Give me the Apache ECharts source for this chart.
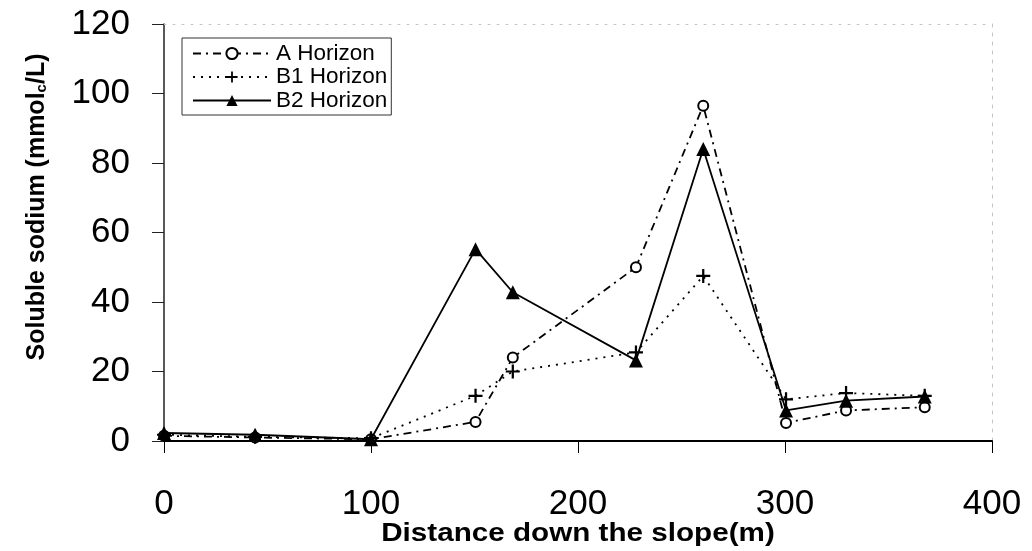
<!DOCTYPE html>
<html>
<head>
<meta charset="utf-8">
<script src="https://cdn.jsdelivr.net/npm/echarts@6/dist/echarts.min.js"></script>
<style>
html,body{margin:0;padding:0;background:#fff;}
#chart{width:1032px;height:551px;}
</style>
</head>
<body>
<div id="chart"></div>
<script>
// ---- data ----
const distance = [0, 44, 100, 150.5, 168.5, 228, 260.5, 300.5, 329.5, 367.5];
const aHorizon = [1.5, 1.0, 0.5, 5.5, 24, 50, 96.5, 5.2, 8.8, 9.7];
const b1Horizon = [1.8, 1.2, 0.8, 13, 20, 25.5, 47.5, 12, 13.8, 13];
const b2Horizon = [2.3, 1.8, 0.5, 55.2, 42.8, 23.2, 84, 8.8, 11.6, 12.8];
const seriesNames = ['A Horizon', 'B1 Horizon', 'B2 Horizon'];
const xTicks = [0, 100, 200, 300, 400];
const yTicks = [0, 20, 40, 60, 80, 100, 120];
const xTitle = 'Distance down the slope(m)';
const yTitle = 'Soluble sodium (mmol{sub|c}/L)';

const pairs = vals => distance.map((d, i) => [d, vals[i]]);
const FONT = '"Liberation Sans", Arial, sans-serif';
const plusPath = 'path://M4.2,0H5.8V4.2H10V5.8H5.8V10H4.2V5.8H0V4.2H4.2Z';

const chart = echarts.init(document.getElementById('chart'), null, {renderer: 'canvas'});
chart.setOption({
  backgroundColor: '#ffffff',
  animation: false,
  grid: {left: 164, right: 40, top: 24, bottom: 110, containLabel: false},
  legend: {
    data: seriesNames,
    orient: 'vertical',
    left: 182, top: 38,
    padding: [4, 4, 3, 10],
    itemWidth: 78, itemHeight: 14, itemGap: 0.5,
    borderColor: '#333', borderWidth: 1,
    backgroundColor: '#fff',
    textStyle: {fontFamily: FONT, fontSize: 22.5, color: '#000'}
  },
  xAxis: [{
    type: 'value', min: xTicks[0], max: xTicks[xTicks.length - 1], interval: 100,
    axisLine: {lineStyle: {color: '#000', width: 2}},
    axisTick: {show: true, inside: false, length: 12, lineStyle: {color: '#000', width: 1}},
    axisLabel: {fontFamily: FONT, fontSize: 35, color: '#000', margin: 46},
    splitLine: {show: false}
  }, {
    type: 'value', position: 'top', min: 0, max: 400,
    axisLine: {show: true, onZero: false, lineStyle: {color: '#c4c4c4', width: 1, type: [2, 7]}},
    axisTick: {show: false}, axisLabel: {show: false}, splitLine: {show: false}
  }],
  yAxis: [{
    type: 'value', min: yTicks[0], max: yTicks[yTicks.length - 1], interval: 20,
    axisLine: {show: true, lineStyle: {color: '#222', width: 1.5}},
    axisTick: {show: true, inside: false, length: 12, lineStyle: {color: '#222', width: 1}},
    axisLabel: {fontFamily: FONT, fontSize: 35, color: '#000', margin: 34},
    splitLine: {show: false}
  }, {
    type: 'value', position: 'right', min: 0, max: 120,
    axisLine: {show: true, onZero: false, lineStyle: {color: '#c4c4c4', width: 1, type: [3, 6]}},
    axisTick: {show: false}, axisLabel: {show: false}, splitLine: {show: false}
  }],
  graphic: [{
    type: 'text', x: 37, y: 207, rotation: Math.PI / 2,
    style: {
      text: yTitle, fontFamily: FONT, fontSize: 25, fontWeight: 'bold', fill: '#000',
      align: 'center', verticalAlign: 'middle',
      rich: {sub: {fontFamily: FONT, fontSize: 15, fontWeight: 'bold', fill: '#000', verticalAlign: 'bottom'}}
    }
  }, {
    type: 'text', x: 578, y: 534, scaleX: 1.14,
    style: {
      text: xTitle, fontFamily: FONT, fontSize: 26, fontWeight: 'bold', fill: '#000',
      align: 'center', verticalAlign: 'middle'
    }
  }],
  series: [{
    name: seriesNames[0], type: 'line', data: pairs(aHorizon),
    symbol: 'emptyCircle', symbolSize: 10,
    itemStyle: {color: '#000', borderColor: '#000', borderWidth: 1.5},
    lineStyle: {color: '#000', width: 1.8, type: [8, 5, 2, 5]},
    z: 3
  }, {
    name: seriesNames[1], type: 'line', data: pairs(b1Horizon),
    symbol: plusPath, symbolSize: 14,
    itemStyle: {color: '#000'},
    lineStyle: {color: '#000', width: 1.8, type: [2, 6]},
    z: 4
  }, {
    name: seriesNames[2], type: 'line', data: pairs(b2Horizon),
    symbol: 'triangle', symbolSize: 14,
    itemStyle: {color: '#000'},
    lineStyle: {color: '#000', width: 1.8, type: 'solid'},
    z: 5
  }]
});
</script>
</body>
</html>
